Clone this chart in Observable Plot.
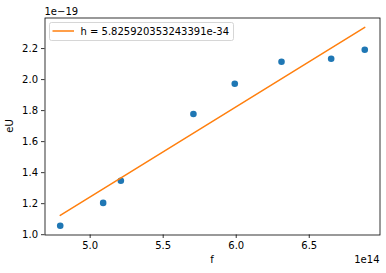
<!DOCTYPE html>
<html><head><meta charset="utf-8">
<script src="https://cdn.jsdelivr.net/npm/d3@7"></script>
<script src="https://cdn.jsdelivr.net/npm/@observablehq/plot@0.6"></script>
<style>body{margin:0;background:#fff} svg{display:block}</style>
</head><body><div id="chart"></div>
<script>
// frequency f (×1e14 Hz)
const fValues = [4.795, 5.089, 5.210, 5.707, 5.990, 6.310, 6.650, 6.880];
// energy eU (×1e-19 J)
const eUValues = [1.058, 1.205, 1.348, 1.778, 1.973, 2.115, 2.134, 2.192];
const xTicks = [5.0, 5.5, 6.0, 6.5];
const yTicks = [1.0, 1.2, 1.4, 1.6, 1.8, 2.0, 2.2];
const legendLabel = "h = 5.825920353243391e-34";
const xLabel = "f", yLabel = "eU";
const xExponent = "1e14", yExponent = "1e\u221219";

const data = fValues.map((f, i) => ({f, eU: eUValues[i]}));
const W = 386, H = 273;
const mL = 44.5, mR = 6.5, mT = 17.5, mB = 38.5;
const font = "DejaVu Sans";

const plot = Plot.plot({
  width: W, height: H,
  marginLeft: mL, marginRight: mR, marginTop: mT, marginBottom: mB,
  style: {fontFamily: font, fontSize: "10px", color: "#000", background: "#fff", overflow: "visible"},
  x: {domain: [4.6908, 6.9843]},
  y: {domain: [0.998, 2.397]},
  marks: [
    Plot.dot(data, {x: "f", y: "eU", r: 3.3, fill: "#1f77b4", stroke: "none"}),
    Plot.linearRegressionY(data, {x: "f", y: "eU", stroke: "#ff7f0e", strokeWidth: 1.5, ci: 0}),
    Plot.axisX({ticks: xTicks, tickSize: 3.5, tickPadding: 3.5, tickFormat: d3.format(".1f"), label: null, strokeWidth: 0.8, fontSize: 10}),
    Plot.axisY({ticks: yTicks, tickSize: 3.5, tickPadding: 3.5, tickFormat: d3.format(".1f"), label: null, strokeWidth: 0.8, fontSize: 10}),
    Plot.frame({stroke: "#000", strokeWidth: 0.8})
  ]
});
document.getElementById("chart").appendChild(plot);

const svg = d3.select(plot);
const g = svg.append("g").attr("font-family", font).attr("font-size", 10).attr("fill", "#000");
// axis labels
g.append("text").attr("x", mL + (W - mL - mR) / 2).attr("y", 263).attr("text-anchor", "middle").text(xLabel);
g.append("text").attr("transform", `translate(13.3,${mT + (H - mT - mB) / 2}) rotate(-90)`).attr("text-anchor", "middle").text(yLabel);
// offset (exponent) labels
g.append("text").attr("x", W - mR).attr("y", 263).attr("text-anchor", "end").text(xExponent);
g.append("text").attr("x", mL).attr("y", 15).attr("text-anchor", "start").text(yExponent);
// legend
const lg = svg.append("g");
lg.append("rect").attr("x", 49.5).attr("y", 22.5).attr("width", 184).attr("height", 18).attr("rx", 2)
  .attr("fill", "#fff").attr("fill-opacity", 0.8).attr("stroke", "#ccc").attr("stroke-width", 0.8);
lg.append("line").attr("x1", 52.5).attr("x2", 74).attr("y1", 31).attr("y2", 31)
  .attr("stroke", "#ff7f0e").attr("stroke-width", 1.5);
lg.append("text").attr("x", 80.5).attr("y", 35).attr("text-anchor", "start")
  .attr("font-family", font).attr("font-size", 10).attr("fill", "#000").text(legendLabel);
</script>
</body></html>
